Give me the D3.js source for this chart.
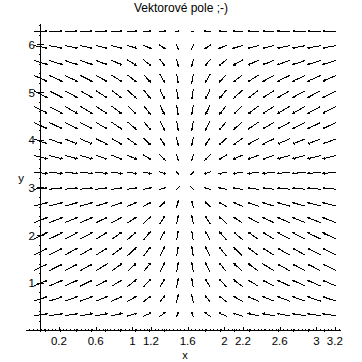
<!DOCTYPE html>
<html><head><meta charset="utf-8">
<script src="https://cdn.jsdelivr.net/npm/d3@7"></script>
<style>html,body{margin:0;padding:0;background:#fff;}svg{display:block;}</style>
</head><body>
<svg id="c" width="362" height="362"></svg>
<script>
// grid positions
const gridX = [0,0.165,0.331,0.496,0.661,0.827,0.992,1.157,1.323,1.488,1.653,1.819,1.984,2.149,2.315,2.480,2.645,2.811,2.976,3.142];
const gridY = [0,0.331,0.661,0.992,1.323,1.653,1.984,2.315,2.645,2.976,3.307,3.638,3.968,4.299,4.630,4.960,5.291,5.622,5.952,6.283];
// horizontal component per column, vertical component per row
const uCol = [1,0.986,0.946,0.880,0.789,0.677,0.546,0.402,0.245,0.083,-0.083,-0.245,-0.402,-0.546,-0.677,-0.789,-0.880,-0.946,-0.986,-1];
const vRow = [0,0.325,0.614,0.837,0.969,0.997,0.916,0.736,0.476,0.165,-0.165,-0.476,-0.736,-0.916,-0.997,-0.969,-0.837,-0.614,-0.325,0];
const xTickLabels = [0.2,0.6,1,1.2,1.6,2,2.2,2.6,3,3.2];
const yTickLabels = [1,2,3,4,5,6];
const title = "Vektorové pole ;-)";

const svg = d3.select("#c");
const x = d3.scaleLinear().domain([0, 3.1416]).range([40.5, 329.5]);
const y = d3.scaleLinear().domain([0, 6.2832]).range([330.5, 31]);
const font = "'Liberation Sans', Arial, sans-serif";

// axes
const g = svg.append("g").attr("stroke", "#000").attr("stroke-width", 1).attr("shape-rendering", "crispEdges");
g.append("line").attr("x1", 26).attr("x2", x(3.27)).attr("y1", y(0)).attr("y2", y(0));
g.append("line").attr("x1", x(0)).attr("x2", x(0)).attr("y1", y(0) + 1).attr("y2", y(6.43));
// x minor ticks
d3.range(-0.12, 3.27, 0.04).forEach(t => {
  g.append("line").attr("x1", Math.round(x(t)) + 0.5).attr("x2", Math.round(x(t)) + 0.5)
    .attr("y1", y(0)).attr("y2", y(0) - 2);
});
xTickLabels.forEach(t => {
  g.append("line").attr("x1", Math.round(x(t)) + 0.5).attr("x2", Math.round(x(t)) + 0.5)
    .attr("y1", y(0)).attr("y2", y(0) - 4);
});
// y minor ticks
d3.range(0.2, 6.43, 0.2).forEach(t => {
  g.append("line").attr("x1", x(0)).attr("x2", x(0) - 2)
    .attr("y1", Math.round(y(t)) + 0.5).attr("y2", Math.round(y(t)) + 0.5);
});
yTickLabels.forEach(t => {
  g.append("line").attr("x1", x(0) - 4).attr("x2", x(0) + 3)
    .attr("y1", Math.round(y(t)) + 0.5).attr("y2", Math.round(y(t)) + 0.5);
});

// tick labels
svg.append("g").selectAll("text").data(xTickLabels).join("text")
  .attr("x", d => x(d)).attr("y", 345).attr("text-anchor", "middle")
  .attr("font-family", font).attr("font-size", 11.5).text(d => String(d));
svg.append("g").selectAll("text").data(yTickLabels).join("text")
  .attr("x", 35).attr("y", d => y(d) + 4.5).attr("text-anchor", "end")
  .attr("font-family", font).attr("font-size", 11.5).text(d => String(d));
svg.append("text").attr("x", x(1.571)).attr("y", 359).attr("text-anchor", "middle")
  .attr("font-family", font).attr("font-size", 11).text("x");
svg.append("text").attr("x", 21).attr("y", 182).attr("text-anchor", "middle")
  .attr("font-family", font).attr("font-size", 11.5).text("y");
svg.append("text").attr("x", 181).attr("y", 12).attr("text-anchor", "middle")
  .attr("font-family", font).attr("font-size", 12).text(title);

// vector field
const pxPerU = x(1) - x(0), pxPerV = y(0) - y(1);
const cells = [];
gridX.forEach((gx, i) => gridY.forEach((gy, j) => cells.push({gx, gy, u: uCol[i], v: vRow[j]})));
const mags = cells.map(c => Math.hypot(c.u * pxPerU, c.v * pxPerV));
const maxMag = d3.max(mags);
const Lmax = 14, p = 0.5;
const af = svg.append("g").attr("stroke", "#000").attr("stroke-width", 1).attr("fill", "none")
  .attr("shape-rendering", "crispEdges");
cells.forEach((c, k) => {
  const M = mags[k];
  if (M === 0) return;
  const L = Lmax * Math.pow(M / maxMag, p);
  const s = L / M;
  const x1 = x(c.gx - c.u * s * 0.5), y1 = y(c.gy - c.v * s * 0.5);
  const x2 = x(c.gx + c.u * s * 0.5), y2 = y(c.gy + c.v * s * 0.5);
  const ang = Math.atan2(y2 - y1, x2 - x1);
  const h = Math.min(2, L * 0.25), a = 0.5;
  af.append("path").attr("d",
    `M${x1},${y1}L${x2},${y2}` +
    `M${x2 - h * Math.cos(ang - a)},${y2 - h * Math.sin(ang - a)}L${x2},${y2}` +
    `L${x2 - h * Math.cos(ang + a)},${y2 - h * Math.sin(ang + a)}`);
});
</script>
</body></html>
